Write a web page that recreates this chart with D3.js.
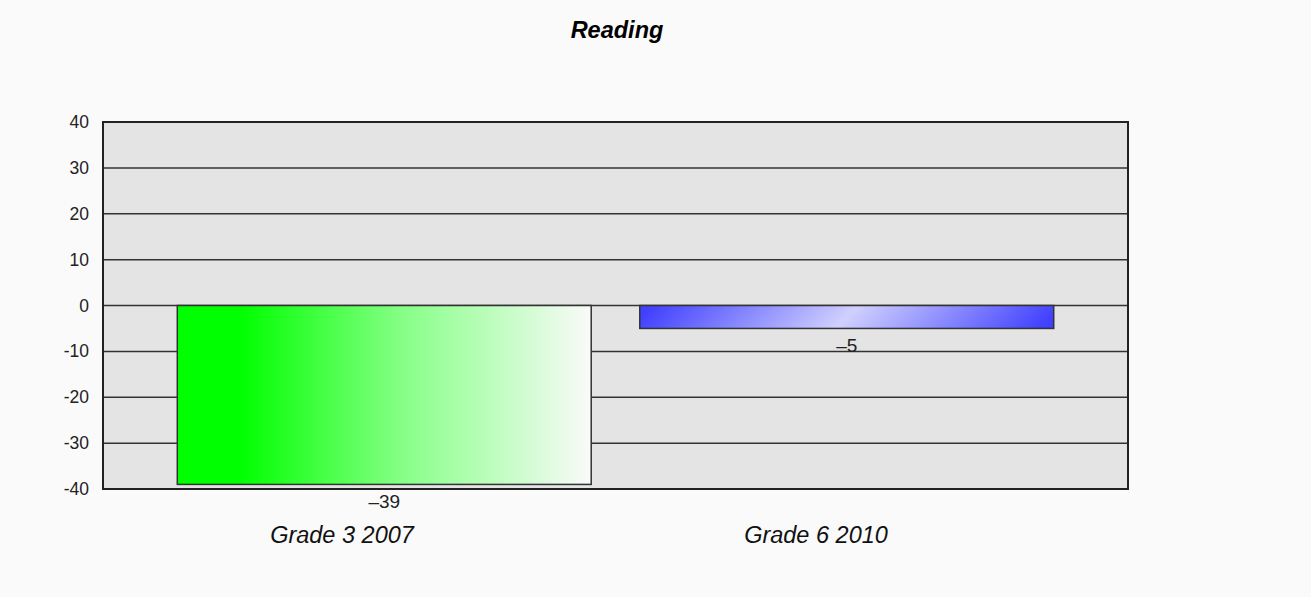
<!DOCTYPE html>
<html>
<head>
<meta charset="utf-8">
<script src="https://cdn.jsdelivr.net/npm/d3@7"></script>
<style>
  body { margin: 0; background: #fafafa; }
  text { font-family: "Liberation Sans", Arial, sans-serif; }
</style>
</head>
<body>
<div class="chart"></div>
<script>
const title = "Reading";
const categories = ["Grade 3 2007", "Grade 6 2010"];
const values = [-39, -5];
const ticks = [40, 30, 20, 10, 0, -10, -20, -30, -40];

const width = 1311;
const height = 597;
const plot = { left: 103, top: 122, right: 1128, bottom: 489 };

const svg = d3.select('.chart')
  .append('svg')
  .attr('width', width)
  .attr('height', height)

const y = d3.scaleLinear().domain([-40, 40]).range([plot.bottom, plot.top]);
const xBar = d3.scaleBand().domain(categories).range([153, 1078]).paddingInner(0.105).paddingOuter(0.0525);
const xLabel = d3.scalePoint().domain(categories).range([342, 816]);

const defs = svg.append("defs");
const green = defs.append("linearGradient").attr("id", "g0")
  .attr("x1", 0).attr("x2", 1).attr("y1", 0).attr("y2", 0);
green.append("stop").attr("offset", "0%").attr("stop-color", "#00ff00");
green.append("stop").attr("offset", "15%").attr("stop-color", "#00ff00");
green.append("stop").attr("offset", "55%").attr("stop-color", "#88ff88");
green.append("stop").attr("offset", "100%").attr("stop-color", "#fafafa");

// diagonal blue gradient, light in the middle
const bx = xBar(categories[1]), bw = xBar.bandwidth();
const cx = bx + bw / 2, cy = (y(0) + y(values[1])) / 2;
const blue = defs.append("linearGradient").attr("id", "g1")
  .attr("gradientUnits", "userSpaceOnUse")
  .attr("x1", cx - bw / 4).attr("y1", cy - bw / 4)
  .attr("x2", cx + bw / 4).attr("y2", cy + bw / 4);
blue.append("stop").attr("offset", "0%").attr("stop-color", "#4040ff");
blue.append("stop").attr("offset", "50%").attr("stop-color", "#d0d0ff");
blue.append("stop").attr("offset", "100%").attr("stop-color", "#4040ff");

svg.append("rect")
  .attr("x", plot.left).attr("y", plot.top)
  .attr("width", plot.right - plot.left).attr("height", plot.bottom - plot.top)
  .attr("fill", "#e4e4e4")

svg.selectAll(".grid")
  .data(ticks)
  .enter()
  .append("line")
  .attr("x1", plot.left).attr("x2", plot.right)
  .attr("y1", d => y(d)).attr("y2", d => y(d))
  .attr("stroke", "#333")
  .attr("stroke-width", 1.5)

svg.selectAll(".tick")
  .data(ticks)
  .enter()
  .append("text")
  .attr("text-anchor", "end")
  .attr("x", 89)
  .attr("y", d => y(d) + 6)
  .attr("font-size", "17.5px")
  .attr("fill", "#222")
  .text(d => d)

svg.selectAll(".bar")
  .data(values)
  .enter()
  .append("rect")
  .attr("x", (d, i) => xBar(categories[i]))
  .attr("y", d => y(Math.max(0, d)))
  .attr("width", xBar.bandwidth())
  .attr("height", d => Math.abs(y(d) - y(0)))
  .attr("fill", (d, i) => `url(#g${i})`)
  .attr("stroke", "#333")
  .attr("stroke-width", 1.5)

svg.selectAll(".val")
  .data(values)
  .enter()
  .append("text")
  .attr("text-anchor", "middle")
  .attr("x", (d, i) => xBar(categories[i]) + xBar.bandwidth() / 2)
  .attr("y", d => y(d) + 24)
  .attr("font-size", "19px")
  .attr("fill", "#222")
  .text(d => "\u2013" + Math.abs(d))

svg.selectAll(".cat")
  .data(categories)
  .enter()
  .append("text")
  .attr("text-anchor", "middle")
  .attr("x", d => xLabel(d))
  .attr("y", 543)
  .attr("font-size", "23.5px")
  .attr("font-style", "italic")
  .attr("fill", "#111")
  .text(d => d)

// frame around the plot
svg.append("rect")
  .attr("x", plot.left).attr("y", plot.top)
  .attr("width", plot.right - plot.left).attr("height", plot.bottom - plot.top)
  .attr("fill", "none")
  .attr("stroke", "#222")
  .attr("stroke-width", 2)

svg.append("text")
  .attr("text-anchor", "middle")
  .attr("x", 617)
  .attr("y", 38)
  .attr("font-size", "23.5px")
  .attr("font-weight", "bold")
  .attr("font-style", "italic")
  .text(title)
</script>
</body>
</html>
